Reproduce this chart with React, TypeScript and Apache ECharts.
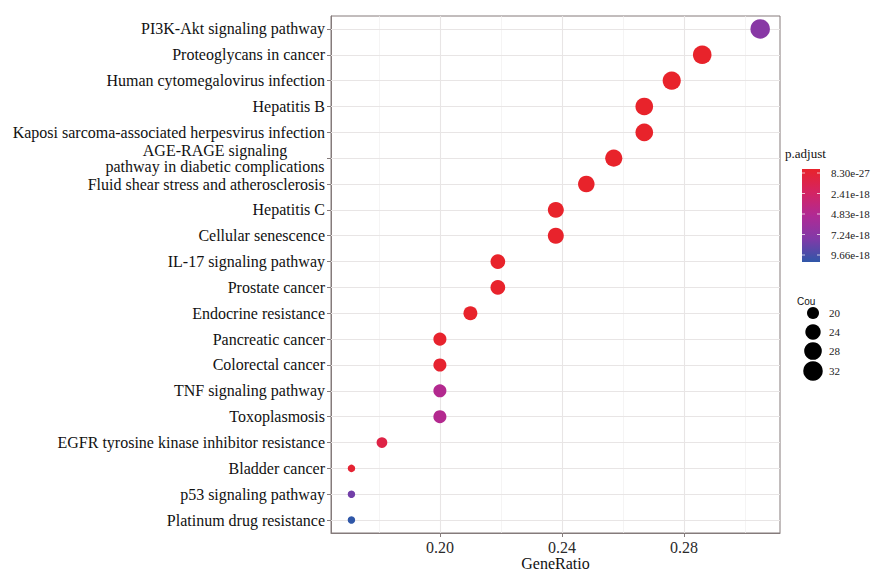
import { useEffect, useRef } from 'react';
import * as echarts from 'echarts';

const categories = [
  'PI3K-Akt signaling pathway',
  'Proteoglycans in cancer',
  'Human cytomegalovirus infection',
  'Hepatitis B',
  'Kaposi sarcoma-associated herpesvirus infection',
  'AGE-RAGE signaling pathway in diabetic complications',
  'Fluid shear stress and atherosclerosis',
  'Hepatitis C',
  'Cellular senescence',
  'IL-17 signaling pathway',
  'Prostate cancer',
  'Endocrine resistance',
  'Pancreatic cancer',
  'Colorectal cancer',
  'TNF signaling pathway',
  'Toxoplasmosis',
  'EGFR tyrosine kinase inhibitor resistance',
  'Bladder cancer',
  'p53 signaling pathway',
  'Platinum drug resistance',
];
const geneRatio = [
  0.305, 0.286, 0.276, 0.267, 0.267, 0.257, 0.248, 0.238, 0.238, 0.219,
  0.219, 0.21, 0.2, 0.2, 0.2, 0.2, 0.181, 0.171, 0.171, 0.171,
];
const counts = [32, 30, 29, 28, 28, 27, 26, 25, 25, 23, 23, 22, 21, 21, 21, 21, 19, 18, 18, 18];
const pAdjust = [
  6.9e-18, 8.3e-27, 3.1e-24, 1.5e-25, 2.2e-22, 4.5e-23, 6.8e-22, 1.9e-20, 5.2e-20, 3.4e-21,
  2.8e-20, 1.6e-20, 7.5e-20, 2.1e-19, 4.6e-18, 4.6e-18, 1.2e-18, 3.5e-19, 7.7e-18, 9.66e-18,
];
const xTickValues = [0.2, 0.24, 0.28];
const xMinorGrid = [0.18, 0.22, 0.26, 0.3];
const pMin = 8.3e-27;
const pMax = 9.66e-18;
const colorLegendLabels = ['8.30e-27', '2.41e-18', '4.83e-18', '7.24e-18', '9.66e-18'];
const sizeLegendCounts = [20, 24, 28, 32];
const colorStops = ['#e8232b', '#d42462', '#b02a94', '#813aa8', '#2f57a8'];

const countMin = 18;
const countMax = 32;
const sizeOf = (c: number) =>
  5.1 + 2.4 * (1 + 5 * Math.sqrt(Math.max(0, c - countMin) / (countMax - countMin)));

const SERIF = '"Liberation Serif", "Times New Roman", serif';
const SANS = '"Liberation Sans", Arial, sans-serif';
const FRAME = '#857b7b';
const GRID_MAJOR = '#e8e5e5';
const GRID_MINOR = '#f1efef';
const TEXT = '#111111';

export default function App() {
  const ref = useRef<HTMLDivElement>(null);

  useEffect(() => {
    document.body.style.margin = '0';
    if (!ref.current) return;
    const chart = echarts.init(ref.current, undefined, { renderer: 'svg' });

    const data = categories.map((c, i) => [geneRatio[i], c, counts[i], pAdjust[i]]);

    const gridLines: any[] = [];
    xTickValues.forEach((v) =>
      gridLines.push({ xAxis: v, lineStyle: { color: GRID_MAJOR, width: 1.1, type: 'solid' } })
    );
    xMinorGrid.forEach((v) =>
      gridLines.push({ xAxis: v, lineStyle: { color: GRID_MINOR, width: 0.7, type: 'solid' } })
    );
    categories.forEach((_, i) =>
      gridLines.push({ yAxis: i, lineStyle: { color: GRID_MAJOR, width: 1.1, type: 'solid' } })
    );

    const legendX = 785;
    const barX = 802;
    const barY = 169;
    const barW = 18;
    const barH = 93;
    const labelY0 = 173;
    const labelStep = 20.5;

    const graphics: any[] = [
      {
        type: 'text',
        left: legendX,
        top: 147,
        style: { text: 'p.adjust', fontSize: 13, fontFamily: SERIF, fill: TEXT },
      },
      {
        type: 'rect',
        shape: { x: barX, y: barY, width: barW, height: barH },
        style: {
          fill: new echarts.graphic.LinearGradient(
            0,
            0,
            0,
            1,
            colorStops.map((c, i) => ({ offset: i / (colorStops.length - 1), color: c }))
          ),
        },
      },
    ];
    colorLegendLabels.forEach((t, i) => {
      const y = labelY0 + i * labelStep;
      graphics.push({
        type: 'text',
        x: 831,
        y,
        style: { text: t, fontSize: 11, fontFamily: SERIF, fill: '#222', verticalAlign: 'middle' },
      });
      graphics.push({
        type: 'line',
        shape: { x1: barX, y1: y, x2: barX + 3, y2: y },
        style: { stroke: 'rgba(255,255,255,0.7)', lineWidth: 1 },
      });
      graphics.push({
        type: 'line',
        shape: { x1: barX + barW - 3, y1: y, x2: barX + barW, y2: y },
        style: { stroke: 'rgba(255,255,255,0.7)', lineWidth: 1 },
      });
    });
    graphics.push({
      type: 'text',
      x: 797,
      y: 296,
      style: { text: 'Cou', fontSize: 10, fontFamily: SANS, fill: TEXT },
    });
    const sizeYs = [313, 332, 351, 371];
    sizeLegendCounts.forEach((c, i) => {
      graphics.push({
        type: 'circle',
        shape: { cx: 813, cy: sizeYs[i], r: sizeOf(c) / 2 },
        style: { fill: '#000' },
      });
      graphics.push({
        type: 'text',
        x: 829,
        y: sizeYs[i],
        style: { text: String(c), fontSize: 11, fontFamily: SERIF, fill: '#222', verticalAlign: 'middle' },
      });
    });

    chart.setOption({
      animation: false,
      backgroundColor: '#ffffff',
      grid: {
        left: 331,
        right: 94,
        top: 16,
        height: 517,
        show: true,
        borderColor: FRAME,
        borderWidth: 1,
        backgroundColor: '#ffffff',
        outerBoundsMode: 'none',
      },
      xAxis: {
        type: 'value',
        min: 0.1643,
        max: 0.3115,
        name: 'GeneRatio',
        nameLocation: 'middle',
        nameGap: 22,
        nameMoveOverlap: false,
        nameTextStyle: { fontSize: 16, fontFamily: SERIF, color: TEXT },
        axisLine: { show: true, lineStyle: { color: FRAME } },
        axisTick: { show: true, length: 4, customValues: xTickValues, lineStyle: { color: FRAME } },
        axisLabel: {
          customValues: xTickValues,
          formatter: (v: number) => v.toFixed(2),
          fontSize: 16,
          fontFamily: SERIF,
          color: '#2a2a2a',
          margin: 6,
        },
        splitLine: { show: false },
      },
      yAxis: {
        type: 'category',
        data: categories,
        inverse: true,
        boundaryGap: true,
        axisLine: { show: true, lineStyle: { color: FRAME } },
        axisTick: { show: true, alignWithLabel: true, length: 4, lineStyle: { color: FRAME } },
        axisLabel: {
          interval: 0,
          fontSize: 16,
          fontFamily: SERIF,
          color: TEXT,
          margin: 6,
          formatter: (v: string) =>
            v.startsWith('AGE-RAGE')
              ? '{c|AGE-RAGE signaling}\n{c|pathway in diabetic complications}'
              : v,
          rich: {
            c: {
              width: 220,
              align: 'center',
              fontSize: 16,
              lineHeight: 16,
              fontFamily: SERIF,
              color: TEXT,
            },
          },
        },
        splitLine: { show: false },
      },
      visualMap: {
        type: 'continuous',
        show: false,
        seriesIndex: 1,
        dimension: 3,
        min: pMin,
        max: pMax,
        inRange: { color: colorStops },
      },
      graphic: graphics,
      series: [
        {
          type: 'scatter',
          data: [],
          z: 1,
          silent: true,
          markLine: {
            z: 1,
            silent: true,
            symbol: ['none', 'none'],
            label: { show: false },
            emphasis: { disabled: true },
            animation: false,
            data: gridLines,
          },
        },
        {
          type: 'scatter',
          z: 3,
          data,
          symbolSize: (v: any[]) => sizeOf(v[2]),
          itemStyle: { opacity: 1 },
        },
      ],
    });

    return () => chart.dispose();
  }, []);

  return (
    <div
      ref={ref}
      style={{ position: 'absolute', left: 0, top: 0, width: 874, height: 571 }}
    />
  );
}
